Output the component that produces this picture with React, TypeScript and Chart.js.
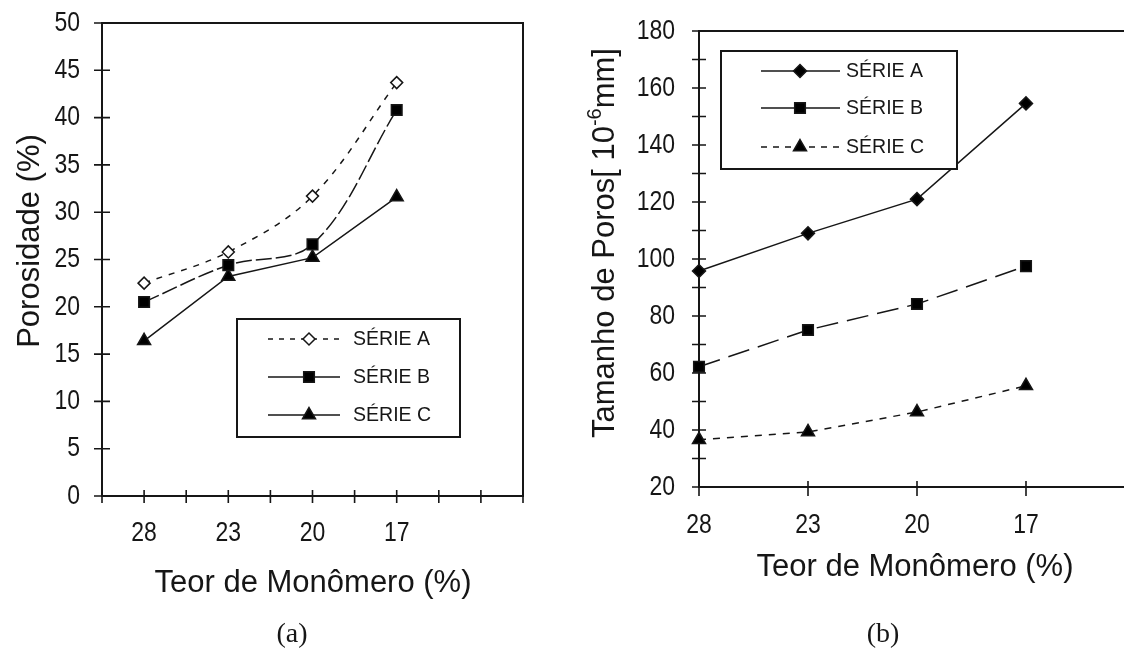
import React, { useEffect, useRef } from 'react';
import { Chart, registerables } from 'chart.js';
import { drawPoint } from 'chart.js/helpers';

Chart.register(...registerables);

// ---------- data ----------
const categories = ['28', '23', '20', '17'];
const seriesNames = ['SÉRIE A', 'SÉRIE B', 'SÉRIE C'];

const porosidadeA = [22.5, 25.8, 31.7, 43.7];
const porosidadeB = [20.5, 24.4, 26.6, 40.8];
const porosidadeC = [16.4, 23.2, 25.2, 31.6];

const tamanhoA = [95.8, 109.0, 121.0, 154.6];
const tamanhoB = [62.2, 75.1, 84.2, 97.5];
const tamanhoC = [36.6, 39.3, 46.3, 55.5];

const porosidadeAxis = { min: 0, max: 50, step: 5 };
const tamanhoAxis = { min: 20, max: 180, step: 10, labelEvery: 20 };

const xTitle = 'Teor de Monômero (%)';
const yTitleA = [{ text: 'Porosidade (%)' }];
const yTitleB = [{ text: 'Tamanho de Poros[ 10' }, { text: '-6', sup: true }, { text: 'mm]' }];
const captions = ['(a)', '(b)'];

// ---------- style ----------
const INK = '#161616';
const TEXT_FONT = "'Liberation Sans', Arial, sans-serif";
const TICK_SIZE = 28;
const TICK_SQUEEZE = 0.82;
const LEGEND_SQUEEZE = 0.93;

type Part = { text: string; sup?: boolean };
type Decor = {
  xTick: [number, number];
  yTick: [number, number];
  xLabelDy: number;
  yLabelGap: number;
  legend: { box: [number, number, number, number]; rows: number[]; line: [number, number]; marker: number; text: number; dashes: number[][] };
  xTitlePos: [number, number];
  yTitlePos: [number, number];
  yTitle: Part[];
};

function squeezedText(ctx: any, text: string, x: number, y: number, align: string, squeeze: number) {
  ctx.save();
  ctx.translate(x, y);
  ctx.scale(squeeze, 1);
  ctx.textAlign = align;
  ctx.textBaseline = 'middle';
  ctx.fillText(text, 0, 0);
  ctx.restore();
}

function makeDecor(d: Decor) {
  return {
    id: 'decor',
    beforeDatasetsDraw(chart: any) {
      const { ctx, chartArea: a } = chart;
      ctx.save();
      ctx.setLineDash([]);
      ctx.strokeStyle = INK;
      ctx.lineWidth = 2;
      ctx.strokeRect(a.left, a.top, a.right - a.left, a.bottom - a.top);
      ctx.lineWidth = 1.6;
      const xs = chart.scales.x;
      const ys = chart.scales.y;
      ctx.beginPath();
      xs.ticks.forEach((t: any) => {
        const p = xs.getPixelForValue(t.value);
        ctx.moveTo(p, a.bottom - d.xTick[0]);
        ctx.lineTo(p, a.bottom + d.xTick[1]);
      });
      ys.ticks.forEach((t: any) => {
        const p = ys.getPixelForValue(t.value);
        ctx.moveTo(a.left - d.yTick[0], p);
        ctx.lineTo(a.left + d.yTick[1], p);
      });
      ctx.stroke();
      // tick labels (narrow face)
      ctx.fillStyle = INK;
      ctx.font = `${TICK_SIZE}px ${TEXT_FONT}`;
      xs.ticks.forEach((t: any) => {
        const lbl = xs.options.ticks.callback(t.value);
        if (lbl) squeezedText(ctx, String(lbl), xs.getPixelForValue(t.value), a.bottom + d.xLabelDy, 'center', TICK_SQUEEZE);
      });
      ys.ticks.forEach((t: any) => {
        const lbl = ys.options.ticks.callback(t.value);
        if (lbl) squeezedText(ctx, String(lbl), a.left - d.yLabelGap, ys.getPixelForValue(t.value), 'right', TICK_SQUEEZE);
      });
      ctx.restore();
    },
    afterDatasetsDraw(chart: any) {
      const { ctx } = chart;
      ctx.save();
      // legend
      const L = d.legend;
      const [bx, by, bw, bh] = L.box;
      ctx.setLineDash([]);
      ctx.fillStyle = '#fff';
      ctx.fillRect(bx, by, bw, bh);
      ctx.strokeStyle = INK;
      ctx.lineWidth = 2;
      ctx.strokeRect(bx, by, bw, bh);
      chart.data.datasets.forEach((ds: any, i: number) => {
        const y = L.rows[i];
        ctx.strokeStyle = INK;
        ctx.lineWidth = 1.5;
        ctx.setLineDash(L.dashes[i]);
        ctx.beginPath();
        ctx.moveTo(L.line[0], y);
        ctx.lineTo(L.line[1], y);
        ctx.stroke();
        ctx.setLineDash([]);
        ctx.fillStyle = ds.pointBackgroundColor;
        ctx.strokeStyle = INK;
        ctx.lineWidth = 1.5;
        drawPoint(ctx, { pointStyle: ds.pointStyle, rotation: 0, radius: ds.pointRadius, borderWidth: 1.5 } as any, L.marker, y);
        ctx.fillStyle = INK;
        ctx.font = `21px ${TEXT_FONT}`;
        squeezedText(ctx, ds.label, L.text, y, 'left', LEGEND_SQUEEZE);
      });
      // x title
      ctx.fillStyle = INK;
      ctx.font = `31px ${TEXT_FONT}`;
      ctx.textAlign = 'center';
      ctx.textBaseline = 'middle';
      ctx.fillText(xTitle, d.xTitlePos[0], d.xTitlePos[1]);
      // y title (rotated, with optional superscript)
      ctx.translate(d.yTitlePos[0], d.yTitlePos[1]);
      ctx.rotate(-Math.PI / 2);
      ctx.textAlign = 'left';
      ctx.textBaseline = 'alphabetic';
      const fontFor = (p: Part) => (p.sup ? `20px ${TEXT_FONT}` : `31px ${TEXT_FONT}`);
      let total = 0;
      d.yTitle.forEach((p) => {
        ctx.font = fontFor(p);
        total += ctx.measureText(p.text).width;
      });
      let x = -total / 2;
      const base = 11;
      d.yTitle.forEach((p) => {
        ctx.font = fontFor(p);
        ctx.fillText(p.text, x, p.sup ? base - 13 : base);
        x += ctx.measureText(p.text).width;
      });
      ctx.restore();
    },
  };
}

const pts = (arr: number[]) => arr.map((y, i) => ({ x: i, y }));
const catLabel = (v: any) => (Number.isInteger(v) && v >= 0 && v < categories.length ? categories[v] : '');

function baseOptions(pad: any, xCfg: any, yCfg: any) {
  return {
    responsive: false,
    animation: false,
    events: [],
    layout: { padding: pad },
    plugins: { legend: { display: false }, tooltip: { enabled: false } },
    scales: {
      x: {
        type: 'linear',
        min: xCfg.min,
        max: xCfg.max,
        afterFit: (s: any) => { s.height = xCfg.height; },
        grid: { display: false, drawTicks: false },
        border: { display: false },
        ticks: { display: false, stepSize: xCfg.step, autoSkip: false, maxRotation: 0, callback: catLabel },
      },
      y: {
        min: yCfg.min,
        max: yCfg.max,
        afterFit: (s: any) => { s.width = yCfg.width; },
        grid: { display: false, drawTicks: false },
        border: { display: false },
        ticks: { display: false, stepSize: yCfg.step, autoSkip: false, callback: yCfg.cb },
      },
    },
  };
}

function porosidadeConfig(): any {
  const common = { borderColor: INK, borderWidth: 1.5, pointBorderColor: INK, pointBorderWidth: 1.5, clip: false };
  return {
    type: 'line',
    data: {
      datasets: [
        { ...common, label: seriesNames[0], data: pts(porosidadeA), borderDash: [6, 7], tension: 0.35, pointStyle: 'rectRot', pointRadius: 6, pointBackgroundColor: '#fff' },
        { ...common, label: seriesNames[1], data: pts(porosidadeB), borderDash: [16, 4], tension: 0.35, pointStyle: 'rect', pointRadius: 7.5, pointBackgroundColor: '#000' },
        { ...common, label: seriesNames[2], data: pts(porosidadeC), tension: 0, pointStyle: 'triangle', pointRadius: 7.5, pointBackgroundColor: '#000' },
      ],
    },
    options: baseOptions(
      { left: 0, top: 23, right: 37, bottom: 0 },
      { min: -0.5, max: categories.length + 0.5, step: 0.5, height: 152 },
      { min: porosidadeAxis.min, max: porosidadeAxis.max, step: porosidadeAxis.step, width: 102, cb: (v: any) => String(v) }
    ),
    plugins: [
      makeDecor({
        xTick: [6, 7],
        yTick: [8, 8],
        xLabelDy: 37,
        yLabelGap: 22,
        legend: { box: [237, 319, 223, 118], rows: [339, 377, 415], line: [268, 340], marker: 309, text: 353, dashes: [[5, 6], [], []] },
        xTitlePos: [313, 583],
        yTitlePos: [28, 241],
        yTitle: yTitleA,
      }),
    ],
  };
}

function tamanhoConfig(): any {
  const common = { borderColor: INK, borderWidth: 1.5, pointBorderColor: INK, pointBorderWidth: 1.5, clip: false, tension: 0 };
  return {
    type: 'line',
    data: {
      datasets: [
        { ...common, label: seriesNames[0], data: pts(tamanhoA), pointStyle: 'rectRot', pointRadius: 6.5, pointBackgroundColor: '#000' },
        { ...common, label: seriesNames[1], data: pts(tamanhoB), borderDash: [22, 9], pointStyle: 'rect', pointRadius: 7.5, pointBackgroundColor: '#000' },
        { ...common, label: seriesNames[2], data: pts(tamanhoC), borderDash: [7, 7], pointStyle: 'triangle', pointRadius: 7.5, pointBackgroundColor: '#000' },
      ],
    },
    options: baseOptions(
      { left: 0, top: 31, right: 10.5, bottom: 0 },
      { min: 0, max: categories.length + 0.5, step: 1, height: 161 },
      {
        min: tamanhoAxis.min, max: tamanhoAxis.max, step: tamanhoAxis.step, width: 139,
        cb: (v: any) => (v % tamanhoAxis.labelEvery === 0 ? String(v) : ''),
      }
    ),
    plugins: [
      makeDecor({
        xTick: [6, 9],
        yTick: [7, 7],
        xLabelDy: 38,
        yLabelGap: 24,
        legend: { box: [161, 51, 236, 118], rows: [71, 108, 147], line: [201, 280], marker: 240, text: 286, dashes: [[], [], [6, 6]] },
        xTitlePos: [355, 567],
        yTitlePos: [43, 243],
        yTitle: yTitleB,
      }),
    ],
  };
}

function ChartCanvas({ make, left, width }: { make: () => any; left: number; width: number }) {
  const ref = useRef<HTMLCanvasElement>(null);
  useEffect(() => {
    const chart = new Chart(ref.current as HTMLCanvasElement, make());
    return () => chart.destroy();
  }, []);
  return (
    <canvas
      ref={ref}
      width={width}
      height={648}
      style={{ position: 'absolute', left, top: 0, width, height: 648 }}
    />
  );
}

export default function App() {
  useEffect(() => {
    document.body.style.margin = '0';
  }, []);
  const cap = (text: string, cx: number) => (
    <div
      style={{
        position: 'absolute',
        left: cx - 60,
        width: 120,
        top: 619,
        height: 28,
        lineHeight: '28px',
        textAlign: 'center',
        fontFamily: "'Liberation Serif', 'Times New Roman', serif",
        fontSize: 28,
        color: INK,
      }}
    >
      {text}
    </div>
  );
  return (
    <div style={{ position: 'fixed', left: 0, top: 0, width: 1124, height: 648, overflow: 'hidden', background: '#fff' }}>
      <ChartCanvas make={porosidadeConfig} left={0} width={560} />
      <ChartCanvas make={tamanhoConfig} left={560} width={640} />
      {cap(captions[0], 292)}
      {cap(captions[1], 883)}
    </div>
  );
}
